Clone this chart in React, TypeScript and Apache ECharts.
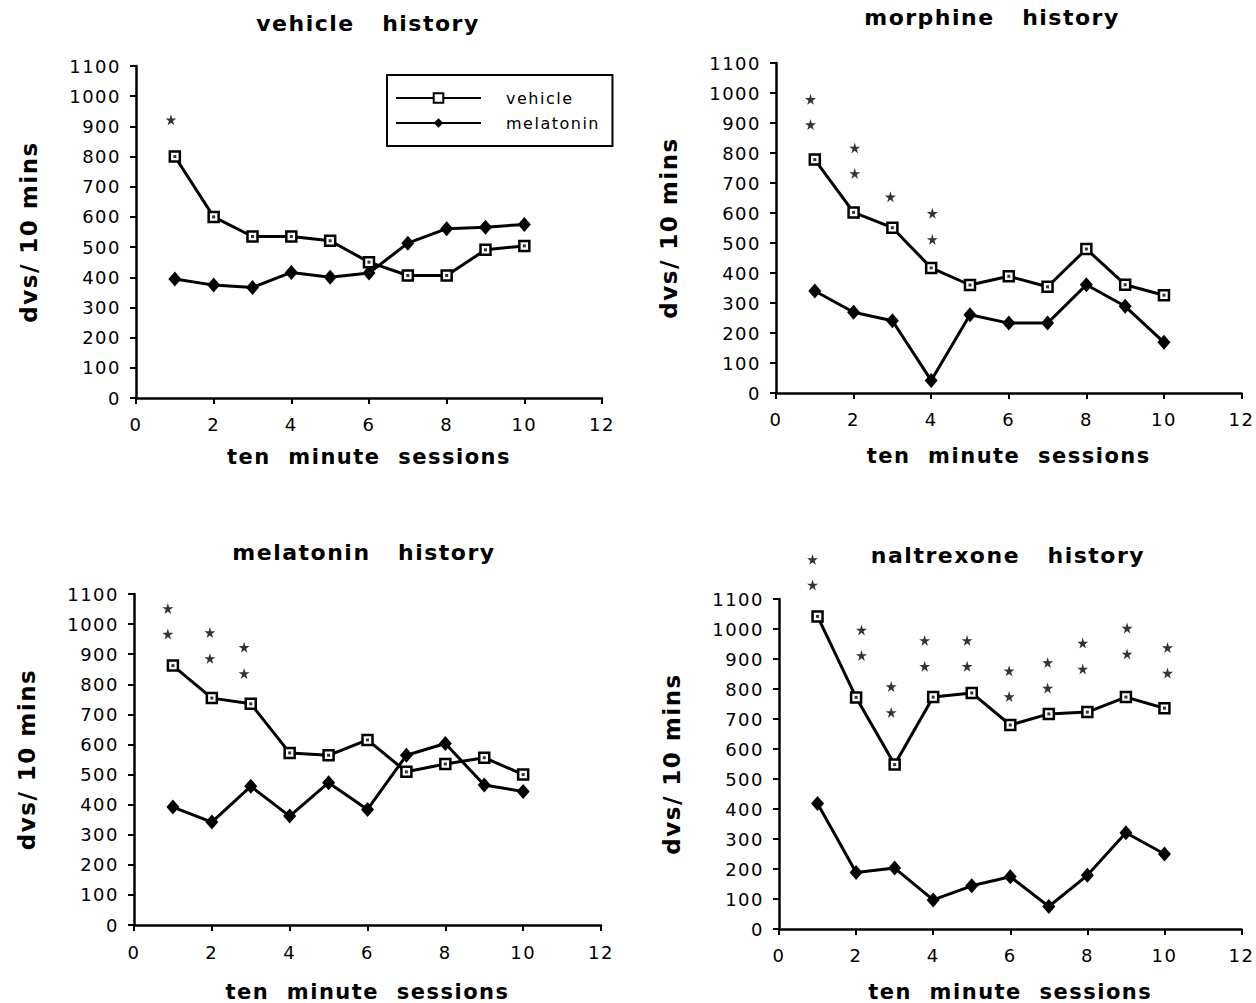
import React, { useEffect, useRef } from "react";
import * as echarts from "echarts";

const sessions = [1, 2, 3, 4, 5, 6, 7, 8, 9, 10];
const xTicks = { min: 0, max: 12, interval: 2 };
const yTicks = { min: 0, max: 1100, interval: 100 };

const panelTitles = ["vehicle   history", "morphine   history", "melatonin   history", "naltrexone   history"];

const vehicleHistVehicle = [800, 600, 535, 535, 521, 450, 406, 406, 491, 504];
const vehicleHistMelatonin = [394, 374, 366, 416, 400, 414, 513, 561, 566, 575];
const morphineHistVehicle = [778, 602, 551, 417, 360, 389, 354, 480, 361, 326];
const morphineHistMelatonin = [340, 269, 241, 42, 261, 233, 233, 361, 289, 169];
const melatoninHistVehicle = [862, 754, 735, 572, 564, 615, 509, 535, 556, 500];
const melatoninHistMelatonin = [392, 342, 461, 362, 473, 384, 564, 603, 465, 444];
const naltrexoneHistVehicle = [1042, 772, 548, 773, 787, 680, 717, 723, 773, 736];
const naltrexoneHistMelatonin = [418, 188, 203, 97, 144, 174, 75, 179, 321, 250];

const vehicleHistStars = [[0.9, 922]];
const morphineHistStars = [
  [0.89, 979], [0.89, 895], [2.03, 817], [2.03, 732], [2.95, 654], [4.03, 599], [4.03, 512],
];
const melatoninHistStars = [
  [0.87, 1052], [0.87, 967], [1.95, 972], [1.95, 886], [2.83, 923], [2.83, 836],
];
const naltrexoneHistStars = [
  [0.87, 1232], [0.87, 1147], [2.14, 997], [2.14, 912], [2.91, 808], [2.91, 722],
  [3.78, 962], [3.78, 876], [4.88, 962], [4.88, 876], [5.97, 861], [5.97, 775],
  [6.97, 888], [6.97, 803], [7.88, 953], [7.88, 867], [9.03, 1003], [9.03, 917],
  [10.08, 938], [10.08, 853],
];

const panels = [
  { title: panelTitles[0], vehicle: vehicleHistVehicle, melatonin: vehicleHistMelatonin, stars: vehicleHistStars },
  { title: panelTitles[1], vehicle: morphineHistVehicle, melatonin: morphineHistMelatonin, stars: morphineHistStars },
  { title: panelTitles[2], vehicle: melatoninHistVehicle, melatonin: melatoninHistMelatonin, stars: melatoninHistStars },
  { title: panelTitles[3], vehicle: naltrexoneHistVehicle, melatonin: naltrexoneHistMelatonin, stars: naltrexoneHistStars },
];

// layout (pixels)
const grids = [
  { left: 136, top: 66, width: 466, height: 332 },
  { left: 776, top: 63, width: 467, height: 330 },
  { left: 134, top: 594, width: 467, height: 332 },
  { left: 779, top: 599, width: 464, height: 331 },
];
const titlePos = [
  { x: 368, y: 12 },
  { x: 992, y: 6 },
  { x: 364, y: 541 },
  { x: 1008, y: 544 },
];
const xNameGaps = [48, 52, 56, 52];
const xLabelMargins = [17, 17, 18, 17];

const FONT = "DejaVu Sans";
const STAR = "path://M50,0 L61,35 L98,35 L68,57 L79,91 L50,70 L21,91 L32,57 L2,35 L39,35 Z";

export default function App() {
  const ref = useRef<HTMLDivElement>(null);
  useEffect(() => {
    if (!ref.current) return;
    const chart = echarts.init(ref.current, undefined, { renderer: "svg" });
    const series: any[] = [];
    panels.forEach((p, i) => {
      series.push({
        type: "line",
        name: "vehicle",
        xAxisIndex: i,
        yAxisIndex: i,
        data: sessions.map((s, k) => [s, p.vehicle[k]]),
        symbol: "rect",
        symbolSize: 10,
        showAllSymbol: true,
        lineStyle: { color: "#000", width: 3 },
        itemStyle: { color: "#fff", borderColor: "#000", borderWidth: 2.5 },
        z: 3,
      });
      series.push({
        type: "scatter",
        name: "vehicle dot",
        xAxisIndex: i,
        yAxisIndex: i,
        data: sessions.map((s, k) => [s, p.vehicle[k]]),
        symbol: "rect",
        symbolSize: 3,
        itemStyle: { color: "#000" },
        silent: true,
        z: 5,
      });
      series.push({
        type: "line",
        name: "melatonin",
        xAxisIndex: i,
        yAxisIndex: i,
        data: sessions.map((s, k) => [s, p.melatonin[k]]),
        symbol: "diamond",
        symbolSize: [13, 15],
        showAllSymbol: true,
        lineStyle: { color: "#000", width: 3 },
        itemStyle: { color: "#000" },
        z: 3,
      });
      series.push({
        type: "scatter",
        name: "significance",
        xAxisIndex: i,
        yAxisIndex: i,
        data: p.stars,
        symbol: STAR,
        symbolSize: 11,
        itemStyle: { color: "#000" },
        clip: false,
        z: 4,
      });
    });

    const axisCommon = {
      axisLine: { show: true, onZero: false, lineStyle: { color: "#000", width: 2.5 } },
      axisTick: { show: true, inside: false, length: 6, lineStyle: { color: "#000", width: 2 } },
      splitLine: { show: false },
    };

    chart.setOption({
      animation: false,
      backgroundColor: "#fff",
      textStyle: { fontFamily: FONT, color: "#000" },
      title: panels.map((p, i) => ({
        text: p.title,
        left: titlePos[i].x,
        top: titlePos[i].y,
        textAlign: "center",
        padding: 0,
        textStyle: { fontFamily: FONT, fontSize: 22, fontWeight: "bold", color: "#000" },
      })),
      legend: {
        data: ["vehicle", "melatonin"],
        orient: "vertical",
        left: 387,
        top: 75,
        padding: [15, 26, 15, 8],
        itemGap: 9,
        itemWidth: 85,
        itemHeight: 12,
        borderColor: "#000",
        borderWidth: 2,
        backgroundColor: "#fff",
        textStyle: { fontFamily: FONT, fontSize: 16, color: "#000", padding: [0, 0, 0, 20] },
      },
      grid: grids.map((g) => ({ ...g, containLabel: false })),
      xAxis: grids.map((g, i) => ({
        type: "value",
        gridIndex: i,
        ...xTicks,
        ...axisCommon,
        axisLabel: { fontFamily: FONT, fontSize: 18, color: "#000", margin: xLabelMargins[i], formatter: (v: number) => String(v) },
        name: "ten  minute  sessions",
        nameLocation: "middle",
        nameGap: xNameGaps[i],
        nameTextStyle: { fontFamily: FONT, fontSize: 21, fontWeight: "bold", color: "#000", verticalAlign: "top" },
      })),
      yAxis: grids.map((g, i) => ({
        type: "value",
        gridIndex: i,
        ...yTicks,
        ...axisCommon,
        axisLabel: { fontFamily: FONT, fontSize: 18, color: "#000", margin: 15, formatter: (v: number) => String(v) },
        name: "dvs/ 10 mins",
        nameLocation: "middle",
        nameGap: 96,
        nameTextStyle: { fontFamily: FONT, fontSize: 23, fontWeight: "bold", color: "#000" },
      })),
      series,
    });
    return () => chart.dispose();
  }, []);
  return (
    <div
      ref={ref}
      style={{
        position: "fixed",
        left: 0,
        top: 0,
        width: 1256,
        height: 1003,
        background: "#fff",
        letterSpacing: "1.5px",
      }}
    />
  );
}
